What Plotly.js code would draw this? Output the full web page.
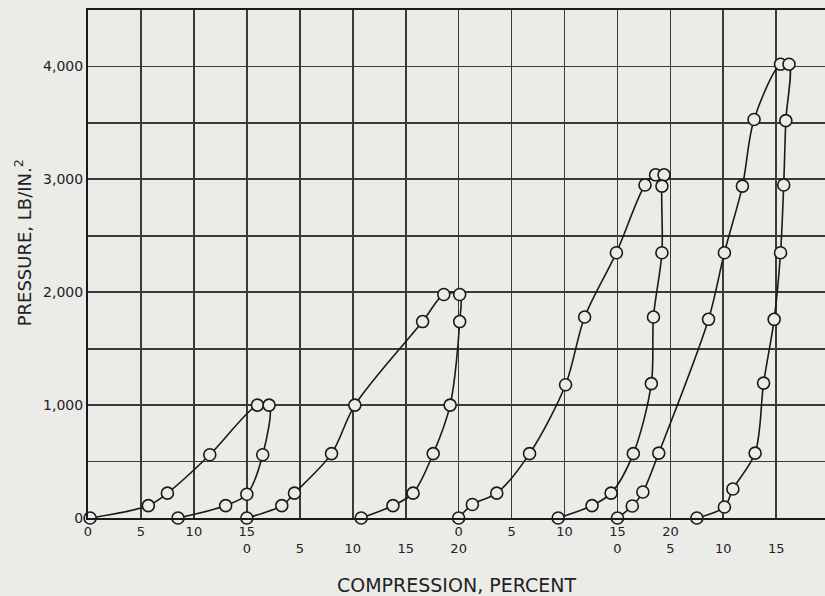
<!DOCTYPE html>
<html>
<head>
<meta charset="utf-8">
<script src="https://cdn.plot.ly/plotly-3.0.1.min.js"></script>
<style>html,body{margin:0;padding:0;background:#ebebe8;}#chart{width:825px;height:596px;}</style>
</head>
<body>
<div id="chart"></div>
<script>
// Origins (percent on the common scale) of each test's own compression scale
const curveOrigins = [0, 15, 35, 50];

// Compression (percent, each on its own scale) and pressure (lb/in.^2): loading then unloading
const comp1 = [0.2, 5.7, 7.5, 11.5, 16.0, 17.1, 16.5, 15.0, 13.0, 8.5];
const pres1 = [0, 110, 220, 560, 1000, 1000, 560, 210, 110, 0];

const comp2 = [0, 3.3, 4.5, 8.0, 10.2, 16.6, 18.6, 20.1, 20.1, 19.2, 17.6, 15.7, 13.8, 10.8];
const pres2 = [0, 110, 220, 570, 1000, 1740, 1980, 1980, 1740, 1000, 570, 220, 110, 0];

const comp3 = [0, 1.3, 3.6, 6.7, 10.1, 11.9, 14.9, 17.6, 18.6, 19.4, 19.2, 19.2, 18.4, 18.2, 16.5, 14.4, 12.6, 9.4];
const pres3 = [0, 120, 220, 570, 1180, 1780, 2350, 2950, 3040, 3040, 2940, 2350, 1780, 1190, 570, 220, 110, 0];

const comp4 = [0, 1.4, 2.4, 3.9, 8.6, 10.1, 11.8, 12.9, 15.4, 16.2, 15.9, 15.7, 15.4, 14.8, 13.8, 13.0, 10.9, 10.1, 7.5];
const pres4 = [0, 106, 230, 575, 1760, 2350, 2940, 3530, 4020, 4020, 3520, 2950, 2350, 1760, 1195, 575, 257, 97, 0];

// Tick labels
const xTickVals = [0, 5, 10, 15, 20, 25, 30, 35, 40, 45, 50, 55, 60, 65];
const xTickRow1 = ['0', '5', '10', '15', '', '', '', '0', '5', '10', '15', '20', '', ''];
const xTickRow2 = ['', '', '', '0', '5', '10', '15', '20', '', '', '0', '5', '10', '15'];
const yTickVals = [0, 500, 1000, 1500, 2000, 2500, 3000, 3500, 4000, 4500];
const yTickText = ['0', '', '1,000', '', '2,000', '', '3,000', '', '4,000', ''];

const comps = [comp1, comp2, comp3, comp4];
const press = [pres1, pres2, pres3, pres4];
const ink = '#1a1a1a';
const paperCol = '#ebebe8';

const traces = comps.map((c, i) => ({
  type: 'scatter',
  mode: 'lines+markers',
  x: c.map(v => v + curveOrigins[i]),
  y: press[i],
  line: {color: ink, width: 1.6, shape: 'spline', smoothing: 0.9},
  marker: {symbol: 'circle', size: 12, color: paperCol, line: {color: ink, width: 1.6}},
  cliponaxis: false,
  hoverinfo: 'skip'
}));

const xTickText = xTickRow1.map((t, i) => (t === '' ? '\u00a0' : t) + '<br>' + (xTickRow2[i] === '' ? '\u00a0' : xTickRow2[i]));

const layout = {
  width: 825, height: 596,
  margin: {l: 88, r: 0, t: 10, b: 78},
  paper_bgcolor: paperCol,
  plot_bgcolor: paperCol,
  showlegend: false,
  font: {family: 'DejaVu Sans, sans-serif', color: '#222', size: 14},
  xaxis: {
    range: [0, 69.6],
    tickmode: 'array', tickvals: xTickVals, ticktext: xTickText,
    ticks: '', showgrid: true, gridcolor: '#3a3a3a', gridwidth: 1.7,
    zeroline: false, showline: true, linecolor: ink, linewidth: 2, mirror: true,
    tickfont: {size: 13},
    title: {text: 'COMPRESSION, PERCENT', font: {size: 19}, standoff: 25}
  },
  yaxis: {
    range: [0, 4500],
    tickmode: 'array', tickvals: yTickVals, ticktext: yTickText,
    ticks: '', showgrid: true, gridcolor: '#3a3a3a', gridwidth: 1.7,
    zeroline: false, showline: true, linecolor: ink, linewidth: 2,
    tickfont: {size: 14}
  },
  annotations: [{
    text: 'PRESSURE, LB/IN.<sup>2</sup>',
    xref: 'paper', yref: 'paper', x: -0.088, y: 0.541,
    xanchor: 'center', yanchor: 'middle', textangle: -90,
    showarrow: false, font: {size: 18, color: '#222'}
  }]
};

Plotly.newPlot('chart', traces, layout, {displayModeBar: false, staticPlot: true});
</script>
</body>
</html>
